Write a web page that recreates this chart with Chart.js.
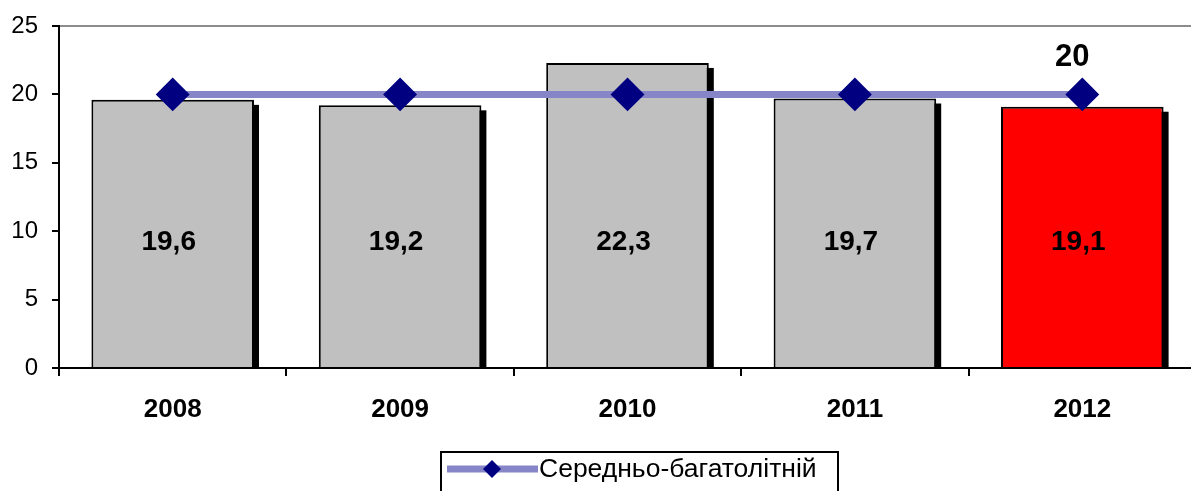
<!DOCTYPE html>
<html>
<head>
<meta charset="utf-8">
<script src="https://cdn.jsdelivr.net/npm/chart.js@4/dist/chart.umd.min.js"></script>
<style>
  html, body { margin: 0; padding: 0; overflow: hidden; background: #fff; }
  #wrap { width: 1215px; height: 491px; }
</style>
</head>
<body>
<div id="wrap"><canvas id="chart" width="1215" height="491"></canvas></div>
<script>
const years = ['2008', '2009', '2010', '2011', '2012'];
const yearValues = [19.6, 19.2, 22.3, 19.7, 19.1];
const longTermAvg = [20, 20, 20, 20, 20];
const barColors = ['#c0c0c0', '#c0c0c0', '#c0c0c0', '#c0c0c0', '#ff0000'];
const yTicks = [0, 5, 10, 15, 20, 25];
const lineLabel = 'Середньо-багатолітній';

const FONT = "'Liberation Sans', Arial, sans-serif";
const LABEL_LEVEL = 9.2;   // height where the value labels sit inside the bars
const LINE_DS = 0, BAR_DS = 1;

// black drop shadow behind bars, like the old Excel look
const barShadow = {
  id: 'barShadow',
  beforeDatasetsDraw(chart) {
    const ctx = chart.ctx, a = chart.chartArea;
    const meta = chart.getDatasetMeta(BAR_DS);
    ctx.save();
    ctx.beginPath();
    ctx.rect(a.left, a.top, a.right - a.left, a.bottom - a.top);
    ctx.clip();
    ctx.fillStyle = '#000';
    meta.data.forEach(bar => {
      const w = bar.width;
      ctx.fillRect(bar.x - w / 2 + 5, bar.y + 5, w, bar.base - bar.y);
    });
    ctx.restore();
  }
};

const valueLabels = {
  id: 'valueLabels',
  afterDatasetsDraw(chart) {
    const ctx = chart.ctx;
    const y = chart.scales.y.getPixelForValue(LABEL_LEVEL);
    ctx.save();
    ctx.fillStyle = '#000';
    ctx.textAlign = 'center';
    ctx.textBaseline = 'middle';
    ctx.font = 'bold 28px ' + FONT;
    chart.getDatasetMeta(BAR_DS).data.forEach((bar, i) => {
      ctx.fillText(String(yearValues[i]).replace('.', ','), bar.x - 4, y);
    });
    // label of the last average point
    const pts = chart.getDatasetMeta(LINE_DS).data;
    const last = pts[pts.length - 1];
    ctx.font = 'bold 31px ' + FONT;
    ctx.fillText(String(longTermAvg[longTermAvg.length - 1]), last.x - 10, last.y - 37);
    ctx.restore();
  }
};

const boxLegend = {
  id: 'boxLegend',
  afterDraw(chart) {
    const ctx = chart.ctx;
    ctx.save();
    ctx.strokeStyle = '#000';
    ctx.lineWidth = 2;
    ctx.strokeRect(441, 452, 397, 60);
    ctx.strokeStyle = '#8585c8';
    ctx.lineWidth = 7;
    ctx.beginPath();
    ctx.moveTo(447, 469);
    ctx.lineTo(538, 469);
    ctx.stroke();
    ctx.fillStyle = '#000080';
    ctx.beginPath();
    ctx.moveTo(492, 460); ctx.lineTo(501, 469); ctx.lineTo(492, 478); ctx.lineTo(483, 469);
    ctx.closePath();
    ctx.fill();
    ctx.fillStyle = '#000';
    ctx.font = '26.5px ' + FONT;
    ctx.textBaseline = 'middle';
    ctx.fillText(lineLabel, 539, 470);
    ctx.restore();
  }
};

new Chart(document.getElementById('chart'), {
  data: {
    labels: years,
    datasets: [{
      type: 'line',
      label: lineLabel,
      data: longTermAvg,
      borderColor: '#8585c8',
      borderWidth: 7,
      pointStyle: 'rectRot',
      pointRadius: 12,
      pointHoverRadius: 12,
      pointBackgroundColor: '#000080',
      pointBorderColor: '#000080',
      order: 0
    }, {
      type: 'bar',
      label: 'years',
      data: yearValues,
      backgroundColor: barColors,
      borderColor: '#000',
      borderWidth: 2,
      barPercentage: 0.715,
      categoryPercentage: 1,
      order: 1
    }]
  },
  options: {
    responsive: false,
    animation: false,
    devicePixelRatio: 1,
    layout: { padding: { top: 26, right: 16, left: 0, bottom: 0 } },
    plugins: { legend: { display: false }, tooltip: { enabled: false } },
    scales: {
      x: {
        offset: true,
        grid: { drawOnChartArea: false, tickColor: '#000', tickLength: 8, lineWidth: 2, offset: true },
        border: { color: '#000', width: 2 },
        ticks: { color: '#000', font: { family: FONT, size: 26, weight: 'bold' }, padding: 18 },
        afterFit(scale) { scale.height = 123; }
      },
      y: {
        min: 0,
        max: 25,
        afterBuildTicks(scale) { scale.ticks = yTicks.map(v => ({ value: v })); },
        grid: {
          color: c => c.tick && c.tick.value === 25 ? '#8c8c8c' : 'rgba(0,0,0,0)',
          tickColor: '#000',
          tickLength: 7,
          lineWidth: 2
        },
        border: { color: '#000', width: 2 },
        ticks: { color: '#000', font: { family: FONT, size: 24, lineHeight: 1 }, padding: 14 },
        afterFit(scale) { scale.width = 59; }
      }
    }
  },
  plugins: [barShadow, valueLabels, boxLegend]
});
</script>
</body>
</html>
